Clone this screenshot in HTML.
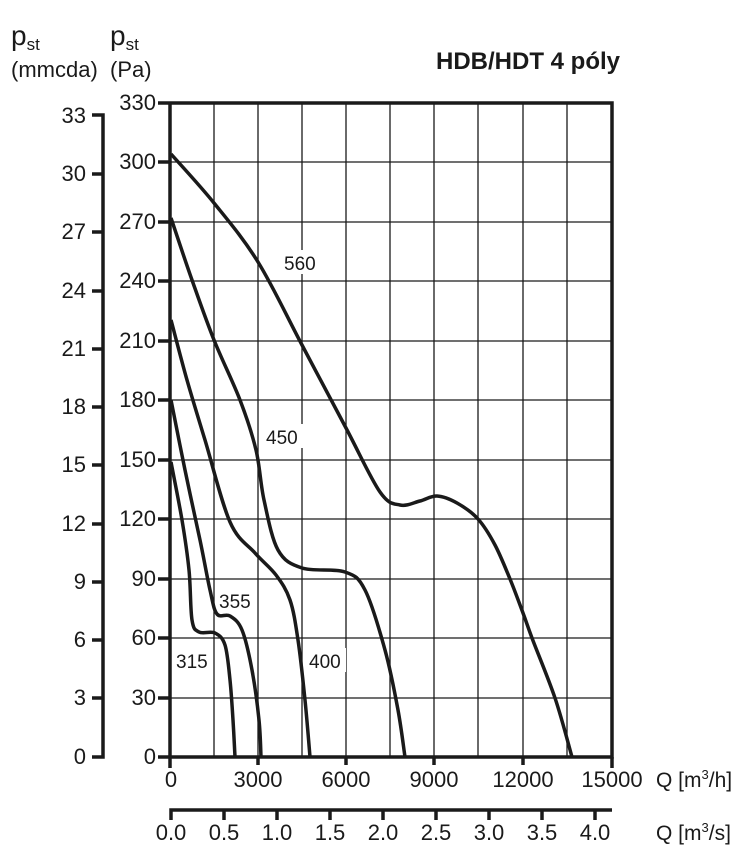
<!DOCTYPE html>
<html><head><meta charset="utf-8"><style>
html,body{margin:0;padding:0;background:#fff}
svg{display:block;font-family:"Liberation Sans",sans-serif}
</style></head><body>
<svg id="s" width="751" height="857" viewBox="0 0 751 857" xmlns="http://www.w3.org/2000/svg">
<g fill="#1a1a1a" font-size="22">
<text x="11" y="45" font-size="28">p<tspan font-size="17" dy="5">st</tspan></text>
<text x="110" y="45" font-size="28">p<tspan font-size="17" dy="5">st</tspan></text>
<text x="11" y="77">(mmcda)</text>
<text x="110" y="77">(Pa)</text>
<text x="620" y="69" text-anchor="end" font-weight="bold" font-size="24">HDB/HDT 4 póly</text>
</g>
<g stroke="#1a1a1a" stroke-width="1.3">
<line x1="214" y1="103" x2="214" y2="757"/><line x1="258" y1="103" x2="258" y2="757"/>
<line x1="302" y1="103" x2="302" y2="757"/><line x1="346" y1="103" x2="346" y2="757"/>
<line x1="390" y1="103" x2="390" y2="757"/><line x1="434" y1="103" x2="434" y2="757"/>
<line x1="478" y1="103" x2="478" y2="757"/><line x1="523" y1="103" x2="523" y2="757"/>
<line x1="567" y1="103" x2="567" y2="757"/>
<line x1="170" y1="162" x2="612" y2="162"/><line x1="170" y1="222" x2="612" y2="222"/>
<line x1="170" y1="281" x2="612" y2="281"/><line x1="170" y1="341" x2="612" y2="341"/>
<line x1="170" y1="400" x2="612" y2="400"/><line x1="170" y1="460" x2="612" y2="460"/>
<line x1="170" y1="519" x2="612" y2="519"/><line x1="170" y1="579" x2="612" y2="579"/>
<line x1="170" y1="638" x2="612" y2="638"/><line x1="170" y1="698" x2="612" y2="698"/>
</g>
<g fill="#fff"><rect x="281" y="250" width="40" height="24"/><rect x="263" y="424" width="40" height="24"/><rect x="216" y="588" width="40" height="24"/><rect x="306" y="648" width="40" height="24"/><rect x="173" y="648" width="40" height="24"/></g>
<g stroke="#1a1a1a" stroke-width="3.5" fill="none">
<path d="M158 103 H612 V757 H158 M170 103 V768"/>
<line x1="158" y1="162" x2="170" y2="162"/><line x1="158" y1="222" x2="170" y2="222"/>
<line x1="158" y1="281" x2="170" y2="281"/><line x1="158" y1="341" x2="170" y2="341"/>
<line x1="158" y1="400" x2="170" y2="400"/><line x1="158" y1="460" x2="170" y2="460"/>
<line x1="158" y1="519" x2="170" y2="519"/><line x1="158" y1="579" x2="170" y2="579"/>
<line x1="158" y1="638" x2="170" y2="638"/><line x1="158" y1="698" x2="170" y2="698"/>
<line x1="258" y1="757" x2="258" y2="765"/><line x1="346" y1="757" x2="346" y2="765"/>
<line x1="434" y1="757" x2="434" y2="765"/><line x1="523" y1="757" x2="523" y2="765"/>
<line x1="612" y1="757" x2="612" y2="768"/>
<path d="M92 115 H103 V757 H92"/>
<line x1="92" y1="174" x2="103" y2="174"/><line x1="92" y1="232" x2="103" y2="232"/>
<line x1="92" y1="291" x2="103" y2="291"/><line x1="92" y1="349" x2="103" y2="349"/>
<line x1="92" y1="407" x2="103" y2="407"/><line x1="92" y1="465" x2="103" y2="465"/>
<line x1="92" y1="524" x2="103" y2="524"/><line x1="92" y1="582" x2="103" y2="582"/>
<line x1="92" y1="640" x2="103" y2="640"/><line x1="92" y1="698" x2="103" y2="698"/>
<path d="M171 820 V810 H612"/>
<line x1="224" y1="810" x2="224" y2="820"/><line x1="277" y1="810" x2="277" y2="820"/>
<line x1="330" y1="810" x2="330" y2="820"/><line x1="383" y1="810" x2="383" y2="820"/>
<line x1="436" y1="810" x2="436" y2="820"/><line x1="489" y1="810" x2="489" y2="820"/>
<line x1="542" y1="810" x2="542" y2="820"/><line x1="595" y1="810" x2="595" y2="820"/>
</g>
<g id="curves" stroke="#1a1a1a" stroke-width="3.5" fill="none" stroke-linejoin="round"></g>
<g fill="#1a1a1a" font-size="19">
<text x="284" y="270">560</text><text x="266" y="444">450</text><text x="219" y="608">355</text><text x="309" y="668">400</text><text x="176" y="668">315</text>
</g>
<g fill="#1a1a1a" font-size="22" text-anchor="end">
<text x="156" y="110">330</text><text x="156" y="169">300</text><text x="156" y="229">270</text>
<text x="156" y="288">240</text><text x="156" y="348">210</text><text x="156" y="407">180</text>
<text x="156" y="467">150</text><text x="156" y="526">120</text><text x="156" y="586">90</text>
<text x="156" y="645">60</text><text x="156" y="705">30</text><text x="156" y="764">0</text>
<text x="86" y="123">33</text><text x="86" y="181">30</text><text x="86" y="239">27</text>
<text x="86" y="298">24</text><text x="86" y="356">21</text><text x="86" y="414">18</text>
<text x="86" y="472">15</text><text x="86" y="531">12</text><text x="86" y="589">9</text>
<text x="86" y="647">6</text><text x="86" y="705">3</text><text x="86" y="764">0</text>
</g>
<g fill="#1a1a1a" font-size="22" text-anchor="middle">
<text x="171" y="787">0</text><text x="258" y="787">3000</text><text x="346" y="787">6000</text>
<text x="434" y="787">9000</text><text x="523" y="787">12000</text><text x="612" y="787">15000</text>
<text x="171" y="840">0.0</text><text x="224" y="840">0.5</text><text x="277" y="840">1.0</text>
<text x="330" y="840">1.5</text><text x="383" y="840">2.0</text><text x="436" y="840">2.5</text>
<text x="489" y="840">3.0</text><text x="542" y="840">3.5</text><text x="595" y="840">4.0</text>
</g>
<g fill="#1a1a1a" font-size="21">
<text x="656" y="787">Q [m<tspan font-size="13" dy="-8">3</tspan><tspan dy="8">/h]</tspan></text>
<text x="656" y="840">Q [m<tspan font-size="13" dy="-8">3</tspan><tspan dy="8">/s]</tspan></text>
</g>
</svg>
<script>
var C=[
[[171,154],[214,203],[258,262],[302,345],[346,428],[380,492],[400,505],[420,501],[437,496],[457,503],[478,519],[495,545],[510,579],[523,613],[532,638],[555,698],[572,757]],
[[171,218],[192,280],[214,340],[240,400],[256,450],[264,500],[278,550],[302,568],[345,572],[365,590],[385,650],[398,710],[405,757]],
[[171,320],[187,380],[205,440],[230,522],[255,553],[276,575],[290,600],[298,640],[305,700],[310,757]],
[[171,400],[185,470],[200,540],[210,590],[217,614],[230,616],[242,630],[252,670],[259,720],[261,757]],
[[171,462],[182,520],[189,570],[192,620],[199,632],[215,633],[225,645],[230,680],[233,720],[235,757]]];
var g=document.getElementById('curves');
C.forEach(function(p){var d='M'+p[0][0]+' '+p[0][1];
for(var i=0;i<p.length-1;i++){var a=p[Math.max(0,i-1)],b=p[i],c=p[i+1],e=p[Math.min(p.length-1,i+2)];
d+=' C'+(b[0]+(c[0]-a[0])/6).toFixed(1)+' '+(b[1]+(c[1]-a[1])/6).toFixed(1)+' '+(c[0]-(e[0]-b[0])/6).toFixed(1)+' '+(c[1]-(e[1]-b[1])/6).toFixed(1)+' '+c[0]+' '+c[1];}
var el=document.createElementNS('http://www.w3.org/2000/svg','path');el.setAttribute('d',d);g.appendChild(el);});
</script>
</body></html>
